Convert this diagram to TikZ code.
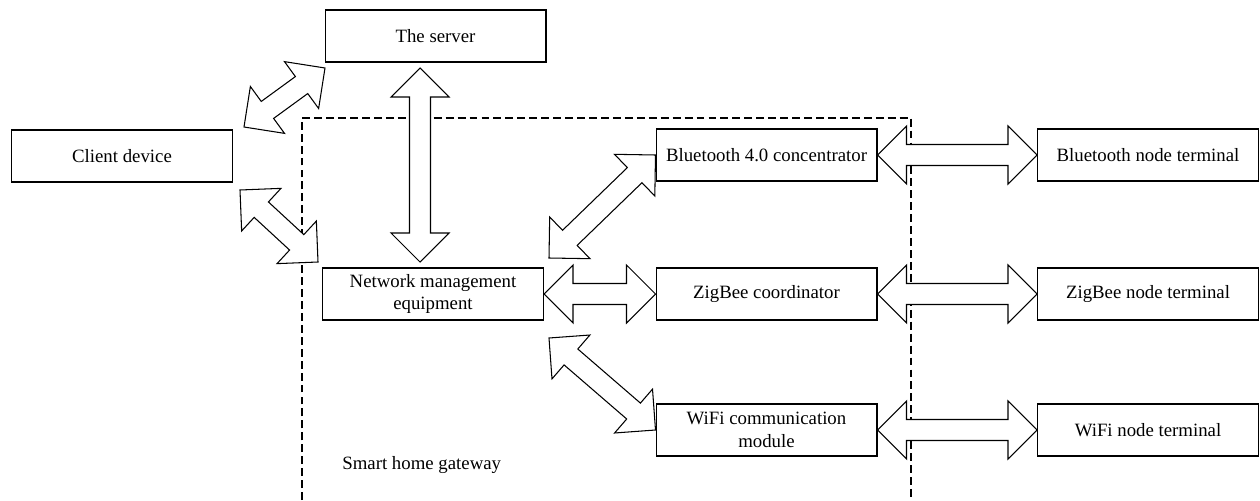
\documentclass[tikz,border=0pt]{standalone}
\usepackage{fontspec}
\setmainfont{Liberation Serif}
\usepackage{tikz}
\usetikzlibrary{calc}
\def\arrhl{0.58cm}
\def\arrhw{0.58cm}
\def\arrsw{0.21cm}
\def\dblarrow(#1)(#2){\draw[line width=0.6pt, fill=white] let \p1=($(#2)-(#1)$), \n1={atan2(\y1,\x1)} in (#1) -- ($(#1)+(\n1:\arrhl)+(\n1+90:\arrhw)$) -- ($(#1)+(\n1:\arrhl)+(\n1+90:\arrsw)$) -- ($(#2)+(\n1:-\arrhl)+(\n1+90:\arrsw)$) -- ($(#2)+(\n1:-\arrhl)+(\n1+90:\arrhw)$) -- (#2) -- ($(#2)+(\n1:-\arrhl)+(\n1-90:\arrhw)$) -- ($(#2)+(\n1:-\arrhl)+(\n1-90:\arrsw)$) -- ($(#1)+(\n1:\arrhl)+(\n1-90:\arrsw)$) -- ($(#1)+(\n1:\arrhl)+(\n1-90:\arrhw)$) -- cycle;}

\begin{document}
\begin{tikzpicture}[x=0.02cm, y=-0.02cm,
		box/.style={draw, line width=0.6pt, minimum width=4.42cm, minimum height=1.04cm, align=center, inner sep=1pt, font=\fontsize{10.7}{13}\selectfont}]
			%%%%% START %%%%%
			\useasboundingbox (0, 0) rectangle (1260, 500);
			
			\draw[line width=0.6pt, dash pattern=on 4.5pt off 2.3pt] (302, 500) -- (302, 118) -- (911, 118) -- (911, 500);
			
			\node[box] (server) at (435.5, 36) {The server};
			\node[box] (client) at (122, 156) {Client device};
			\node[box] (netw) at (433, 294) {Network management\\equipment};
			
			\node[box] (bt) at (766.5, 155) {Bluetooth 4.0 concentrator};
			\node[box] (zb) at (766.5, 294) {ZigBee coordinator};
			\node[box] (wifi) at (766.5, 430) {WiFi communication\\module};
			
			\node[box] (btn) at (1148, 155) {Bluetooth node terminal};
			\node[box] (zbn) at (1148, 294) {ZigBee node terminal};
			\node[box] (wfn) at (1148, 430) {WiFi node terminal};
			
			\node[anchor=west, inner sep=0pt, font=\fontsize{10.7}{13}\selectfont] (gw) at (342, 465) {Smart home gateway};
			
			\coordinate (cs1) at (244, 127);
			\coordinate (cs2) at (325, 68);
			\coordinate (cn1) at (240, 190);
			\coordinate (cn2) at (318, 262);
			\coordinate (sv) at (420, 68);
			\coordinate (nv) at (420, 262);
			\coordinate (nb) at (549, 258);
			\coordinate (nw) at (549, 338);
			
			\dblarrow(cs1)(cs2);
			\dblarrow(cn1)(cn2);
			\dblarrow(sv)(nv);
			\dblarrow(nb)(bt.west);
			\dblarrow(netw.east)(zb.west);
			\dblarrow(nw)(wifi.west);
			
			\dblarrow(bt.east)(btn.west);
			\dblarrow(zb.east)(zbn.west);
			\dblarrow(wifi.east)(wfn.west);
			
			%%%%% END %%%%%
		\end{tikzpicture}
\end{document}
